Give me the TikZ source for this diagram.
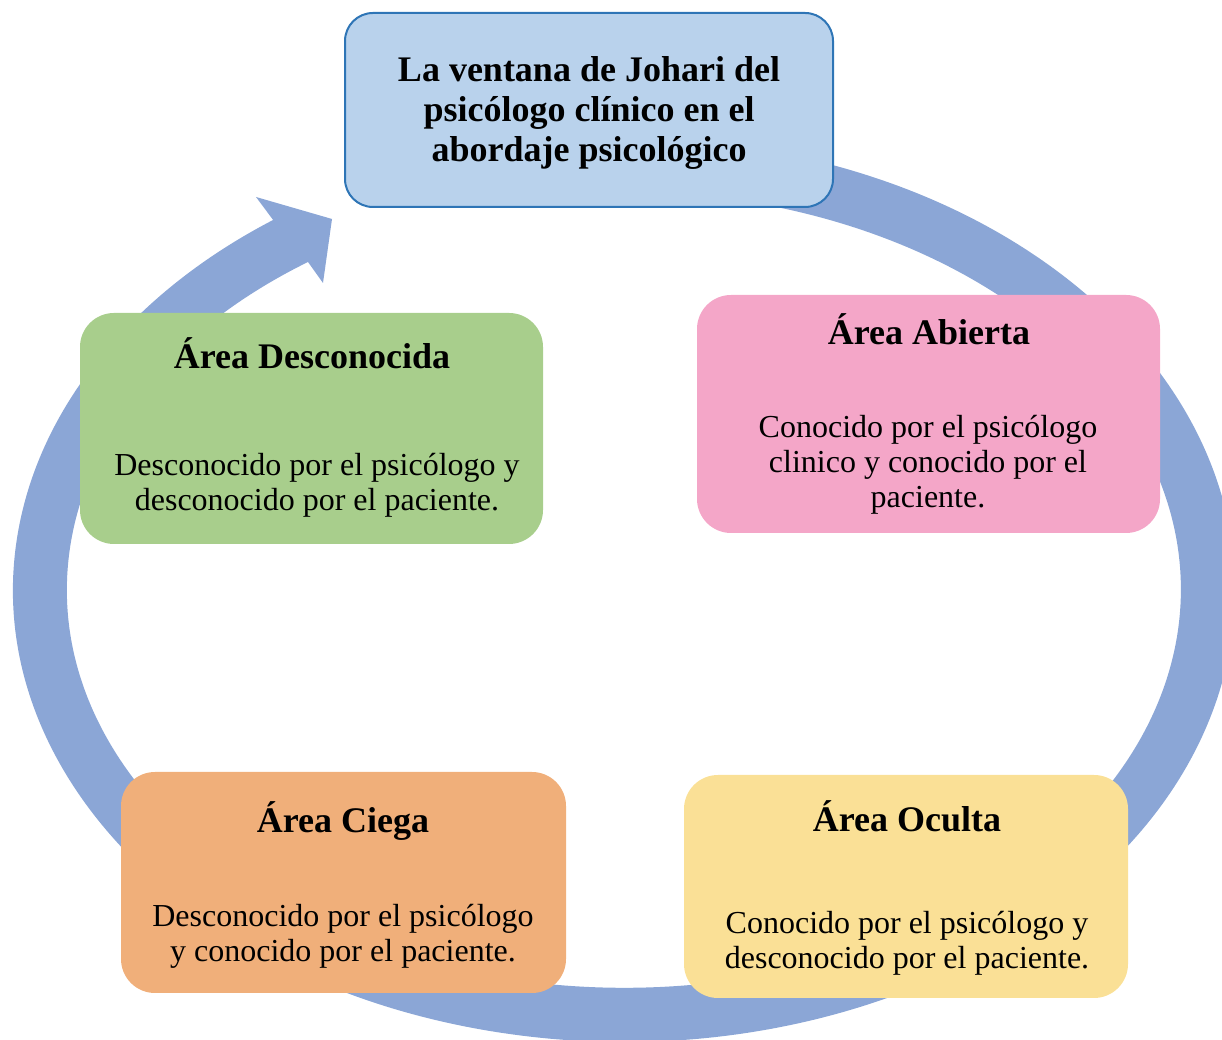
\documentclass[tikz,border=0pt]{standalone}
\usepackage{fontspec}
\setmainfont{Liberation Serif}
\definecolor{ringblue}{RGB}{139,166,214}
\definecolor{topfill}{RGB}{185,210,236}
\definecolor{topline}{RGB}{46,117,182}
\definecolor{pinkfill}{RGB}{244,166,200}
\definecolor{greenfill}{RGB}{168,206,140}
\definecolor{orangefill}{RGB}{240,175,122}
\definecolor{yellowfill}{RGB}{250,224,150}
\begin{document}
\begin{tikzpicture}[x=1pt,y=1pt,
  areabox/.style={rectangle, rounded corners=34pt, inner sep=0pt, draw=none},
  headtext/.style={anchor=base, align=center, inner sep=0pt, font=\fontsize{36}{40}\selectfont\bfseries},
  bodytext/.style={anchor=base, align=center, inner sep=0pt, font=\fontsize{32}{35}\selectfont}]
\useasboundingbox (0,0) rectangle (1222,1040);
\clip (0,0) rectangle (1222,1040);
% circular arrow (elliptical ring)
\fill[ringblue] (624,450) ++(80:611 and 452)
  arc[start angle=80, end angle=-234.95, x radius=611, y radius=452]
  -- (256,843) -- (332,821) -- (323,757) -- (308,778)
  arc[start angle=-235.45, end angle=80, x radius=557, y radius=398]
  -- cycle;
% boxes
\node[areabox, rounded corners=28pt, fill=topfill, draw=topline, line width=2pt,
      minimum width=488pt, minimum height=194pt] (top) at (589,930) {};
\node[areabox, fill=pinkfill, minimum width=463pt, minimum height=238pt] (abierta) at (928.5,626) {};
\node[areabox, fill=greenfill, minimum width=463pt, minimum height=231pt] (desconocida) at (311.5,611.5) {};
\node[areabox, fill=orangefill, minimum width=445pt, minimum height=221pt] (ciega) at (343.5,157.5) {};
\node[areabox, fill=yellowfill, minimum width=444pt, minimum height=223pt] (oculta) at (906,153.5) {};
% texts (base anchor = baseline of the last line)
\node[headtext] (toptext) at (589,878) {La ventana de Johari del\\psicólogo clínico en el\\abordaje psicológico};
\node[headtext] (abiertah) at (929,695) {Área Abierta};
\node[bodytext] (abiertab) at (928,532) {Conocido por el psicólogo\\clinico y conocido por el\\paciente.};
\node[headtext] (desconocidah) at (312,671) {Área Desconocida};
\node[bodytext] (desconocidab) at (317,529) {Desconocido por el psicólogo y\\desconocido por el paciente.};
\node[headtext] (ciegah) at (343,207) {Área Ciega};
\node[bodytext] (ciegab) at (343,78) {Desconocido por el psicólogo\\y conocido por el paciente.};
\node[headtext] (ocultah) at (907,208) {Área Oculta};
\node[bodytext] (ocultab) at (907,71) {Conocido por el psicólogo y\\desconocido por el paciente.};
\end{tikzpicture}
\end{document}
